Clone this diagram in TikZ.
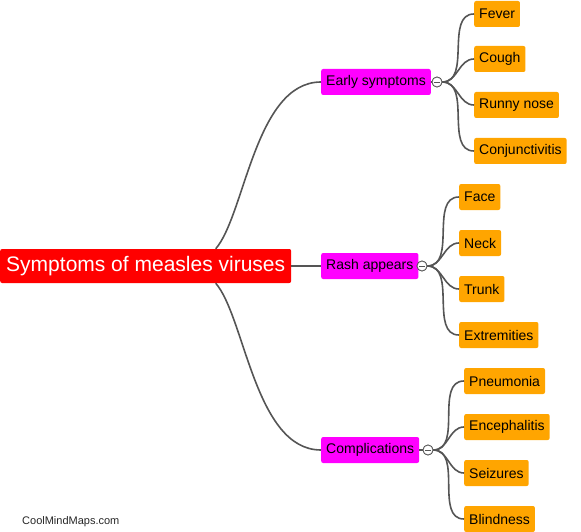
\documentclass[tikz,border=0pt]{standalone}
\usepackage{fontspec}
\setmainfont{Liberation Sans}
\usetikzlibrary{arrows}

\definecolor{rootred}{HTML}{FF0000}
\definecolor{midpink}{HTML}{FF00FF}
\definecolor{leaforange}{HTML}{FFA500}
\definecolor{linkgray}{HTML}{555555}

\begin{document}
\begin{tikzpicture}[x=1pt,y=1pt]
            \tikzset{root/.style={fill=rootred,text=white,rounded corners=2pt,minimum height=34pt,minimum width=291pt,inner xsep=5pt,font=\fontsize{21}{25}\selectfont,anchor=west}};
            \tikzset{mid/.style={fill=midpink,text=black,rounded corners=2pt,minimum height=26pt,inner xsep=5pt,font=\fontsize{14}{16}\selectfont,anchor=west}};
            \tikzset{leaf/.style={fill=leaforange,text=black,rounded corners=2pt,minimum height=26pt,inner xsep=5pt,font=\fontsize{14}{16}\selectfont,anchor=west}};
            \tikzset{toggle/.style={circle,draw=linkgray,fill=white,line width=0.8pt,minimum size=10pt,inner sep=0pt,
                path picture={\draw[linkgray,line width=0.8pt] ([xshift=-3pt]path picture bounding box.center) -- ([xshift=3pt]path picture bounding box.center);}}};
            \tikzset{link/.style={draw=linkgray,line width=1.6pt}};
            \useasboundingbox (0,0) rectangle (581,-532);
            % main topic
            \node[root] (root) at (0,-266) {Symptoms of measles viruses};
            % branches
            \node[mid] (early) at (321,-82) {Early symptoms};
            \node[mid] (rash) at (321,-266) {Rash appears};
            \node[mid] (compl) at (321,-450) {Complications};
            \node[toggle] (te) at (437,-82) {};
            \node[toggle] (tr) at (422,-266) {};
            \node[toggle] (tc) at (428,-450) {};
            % leaves
            \node[leaf] (fever) at (474,-14) {Fever};
            \node[leaf] (cough) at (474,-59) {Cough};
            \node[leaf] (runny) at (474,-105) {Runny nose};
            \node[leaf] (conj) at (474,-151) {Conjunctivitis};
            \node[leaf] (face) at (459,-197) {Face};
            \node[leaf] (neck) at (459,-243) {Neck};
            \node[leaf] (trunk) at (459,-289) {Trunk};
            \node[leaf] (extr) at (459,-335) {Extremities};
            \node[leaf] (pneu) at (464,-381) {Pneumonia};
            \node[leaf] (ence) at (464,-427) {Encephalitis};
            \node[leaf] (seiz) at (464,-473) {Seizures};
            \node[leaf] (blind) at (464,-519) {Blindness};
            \node[anchor=west,inner sep=0pt,text=black!85,font=\fontsize{11}{13}\selectfont] (credit) at (22,-522) {CoolMindMaps.com};
            % root to branches
            \begin{scope}[on background layer/.try]
            \draw[link] ([xshift=70pt]root.north) .. controls (245,-215) and (255,-82) .. (early.west);
            \draw[link] (root.east) -- (rash.west);
            \draw[link] ([xshift=70pt]root.south) .. controls (245,-317) and (255,-450) .. (compl.west);
            \draw[link] (early.east) -- (te.west);
            \draw[link] (rash.east) -- (tr.west);
            \draw[link] (compl.east) -- (tc.west);
            % branches to leaves
            \draw[link] (te.east) to[out=0,in=180] (fever.west);
            \draw[link] (te.east) to[out=0,in=180] (cough.west);
            \draw[link] (te.east) to[out=0,in=180] (runny.west);
            \draw[link] (te.east) to[out=0,in=180] (conj.west);
            \draw[link] (tr.east) to[out=0,in=180] (face.west);
            \draw[link] (tr.east) to[out=0,in=180] (neck.west);
            \draw[link] (tr.east) to[out=0,in=180] (trunk.west);
            \draw[link] (tr.east) to[out=0,in=180] (extr.west);
            \draw[link] (tc.east) to[out=0,in=180] (pneu.west);
            \draw[link] (tc.east) to[out=0,in=180] (ence.west);
            \draw[link] (tc.east) to[out=0,in=180] (seiz.west);
            \draw[link] (tc.east) to[out=0,in=180] (blind.west);
            \end{scope}
            \node[toggle] at (te) {};
            \node[toggle] at (tr) {};
            \node[toggle] at (tc) {};
\end{tikzpicture}
\end{document}
